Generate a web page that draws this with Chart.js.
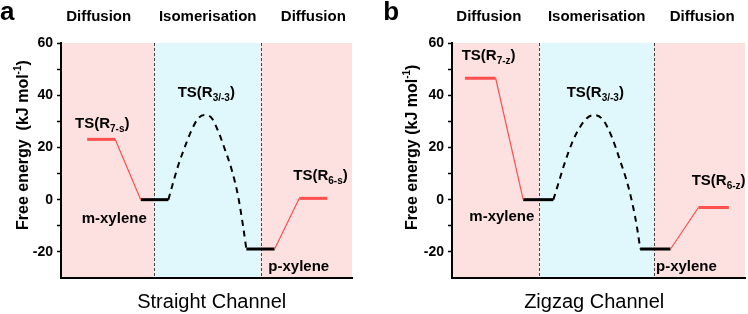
<!DOCTYPE html>
<html>
<head>
<meta charset="utf-8">
<script src="https://cdn.jsdelivr.net/npm/chart.js@4.4.1/dist/chart.umd.min.js"></script>
<style>
  html, body { margin: 0; padding: 0; background: #fff; }
  #wrap { position: relative; width: 748px; height: 314px; }
  canvas { position: absolute; top: 0; }
</style>
</head>
<body>
<div id="wrap">
  <canvas id="chartA" width="374" height="314" style="left:0"></canvas>
  <canvas id="chartB" width="374" height="314" style="left:374px"></canvas>
</div>
<script>
// free energy (kJ/mol) of the flat levels: TS left, m-xylene, p-xylene, TS right
const straightEnergy = [23.1, 0, -18.9, 0.5];
const zigzagEnergy   = [46.5, 0, -18.9, -3.0];

// reaction coordinate (0..10) where each flat level starts / ends
const straightLevelX = [[0.90, 1.86], [2.74, 3.69], [6.37, 7.34], [8.19, 9.15]];
const zigzagLevelX   = [[0.44, 1.49], [2.43, 3.46], [6.42, 7.46], [8.41, 9.45]];

// isomerisation barrier TS(R3/-3)
const straightCurveX = [3.69, 3.86, 4.03, 4.26, 4.49, 4.72, 4.95, 5.18, 5.41, 5.64, 5.87, 6.09, 6.26, 6.37];
const straightCurveY = [0, 6.8, 13.2, 20.3, 26.7, 31.2, 32.4, 31.2, 26.0, 19.0, 11.3, 1.1, -10.4, -18.9];
const zigzagCurveX = [3.46, 3.63, 3.86, 4.09, 4.31, 4.60, 4.86, 5.16, 5.45, 5.73, 6.02, 6.25, 6.39, 6.42];
const zigzagCurveY = [0, 6.2, 14.5, 21.6, 26.7, 31.2, 32.4, 30.5, 24.1, 15.2, 4.9, -6.6, -16.2, -18.9];

// borders between diffusion | isomerisation | diffusion
const straightRegions = [3.20, 6.86];
const zigzagRegions   = [2.98, 6.89];

const regionNames = ['Diffusion', 'Isomerisation', 'Diffusion'];
const yTicks = [-20, 0, 20, 40, 60];

const FONT = '"Liberation Sans", Arial, sans-serif';
const RED = '#ff4f4f';
const PINK = '#fde1e0';
const CYAN = '#e0f8fb';

function segment(xs, ys, color, width, extra) {
  return Object.assign({
    data: xs.map((x, i) => ({x: x, y: ys[i]})),
    borderColor: color,
    borderWidth: width,
    pointRadius: 0,
    fill: false,
    tension: 0
  }, extra || {});
}

function buildDatasets(levelX, energy, curveX, curveY) {
  const level = (i, color) => segment(levelX[i], [energy[i], energy[i]], color, 3);
  return [
    segment([levelX[0][1], levelX[1][0]], [energy[0], energy[1]], RED, 1.2),
    segment(curveX, curveY, '#000', 2, {borderDash: [6, 5], cubicInterpolationMode: 'monotone'}),
    segment([levelX[2][1], levelX[3][0]], [energy[2], energy[3]], RED, 1.2),
    level(0, RED), level(1, '#000'), level(2, '#000'), level(3, RED)
  ];
}

function drawRich(ctx, x, y, parts) {
  ctx.textAlign = 'left';
  parts.forEach(pt => {
    ctx.font = (pt.weight || 'bold') + ' ' + pt.size + 'px ' + FONT;
    ctx.fillText(pt.t, x, y + (pt.dy || 0));
    x += ctx.measureText(pt.t).width;
  });
}

function panelPlugin(p) {
  return {
    id: 'panel_' + p.letter,
    beforeDraw(chart) {
      const {ctx, chartArea: a} = chart;
      const xs = chart.scales.x;
      const b0 = xs.getPixelForValue(p.regions[0]);
      const b1 = xs.getPixelForValue(p.regions[1]);
      ctx.save();
      ctx.fillStyle = PINK;
      ctx.fillRect(a.left, a.top, a.right - a.left, a.bottom - a.top);
      ctx.fillStyle = CYAN;
      ctx.fillRect(b0, a.top, b1 - b0, a.bottom - a.top);
      ctx.strokeStyle = '#444';
      ctx.lineWidth = 1;
      ctx.setLineDash([3, 2]);
      [b0, b1].forEach(b => {
        ctx.beginPath();
        ctx.moveTo(Math.round(b) + 0.5, a.top);
        ctx.lineTo(Math.round(b) + 0.5, a.bottom);
        ctx.stroke();
      });
      ctx.restore();
    },
    afterDraw(chart) {
      const ctx = chart.ctx;
      ctx.save();
      ctx.fillStyle = '#000';
      ctx.textBaseline = 'alphabetic';

      ctx.font = 'bold 26px ' + FONT;
      ctx.textAlign = 'left';
      ctx.fillText(p.letter, p.letterX, 20);

      ctx.font = 'bold 15px ' + FONT;
      ctx.textAlign = 'center';
      regionNames.forEach((t, i) => ctx.fillText(t, p.headerX[i], 21));

      ctx.font = '20px ' + FONT;
      ctx.fillText(p.title, p.titleX, 308);

      ctx.save();
      ctx.translate(p.yTitleX, 230);
      ctx.rotate(-Math.PI / 2);
      drawRich(ctx, 0, 0, [
        {t: p.yTitle, size: 16},
        {t: '-1', size: 10, dy: -7},
        {t: ')', size: 16}
      ]);
      ctx.restore();

      p.labels.forEach(l => {
        if (l.sub) {
          drawRich(ctx, l.x, l.y, [{t: 'TS(R', size: 15}, {t: l.sub, size: 10, dy: 4}, {t: ')', size: 15}]);
        } else {
          drawRich(ctx, l.x, l.y, [{t: l.text, size: 15}]);
        }
      });
      ctx.restore();
    }
  };
}

function makeChart(id, p) {
  return new Chart(document.getElementById(id), {
    type: 'line',
    data: {datasets: buildDatasets(p.levelX, p.energy, p.curveX, p.curveY)},
    options: {
      responsive: false,
      animation: false,
      devicePixelRatio: 1,
      layout: {padding: {left: 0, right: p.padRight, top: 43, bottom: 36}},
      plugins: {legend: {display: false}, tooltip: {enabled: false}},
      scales: {
        x: {
          type: 'linear', min: 0, max: 10,
          ticks: {display: false},
          grid: {drawOnChartArea: false, drawTicks: false},
          border: {color: '#000', width: 2},
          afterFit: s => { s.height = 0; }
        },
        y: {
          min: -30, max: 60,
          ticks: {
            stepSize: 10, color: '#000', padding: 4,
            font: {family: FONT, size: 14, weight: 'bold'},
            callback: v => yTicks.includes(v) ? v : ''
          },
          grid: {
            drawOnChartArea: false, tickLength: 4, tickWidth: 1.5,
            tickColor: c => (c.tick && c.tick.value === -30) ? 'rgba(0,0,0,0)' : '#000'
          },
          border: {color: '#000', width: 2},
          afterFit: s => { s.width = p.axisW; }
        }
      }
    },
    plugins: [panelPlugin(p)]
  });
}

makeChart('chartA', {
  letter: 'a', letterX: 0,
  energy: straightEnergy, levelX: straightLevelX,
  curveX: straightCurveX, curveY: straightCurveY,
  regions: straightRegions,
  axisW: 61, padRight: 22,
  headerX: [98.7, 207.7, 313.3],
  title: 'Straight Channel', titleX: 211.7,
  yTitle: 'Free energy  (kJ mol', yTitleX: 28,
  labels: [
    {x: 75, y: 128, sub: '7-s'},
    {x: 177.7, y: 96.7, sub: '3/-3'},
    {x: 81.7, y: 222.7, text: 'm-xylene'},
    {x: 268.3, y: 270.7, text: 'p-xylene'},
    {x: 293.3, y: 180, sub: '6-s'}
  ]
});

makeChart('chartB', {
  letter: 'b', letterX: 9.3,
  energy: zigzagEnergy, levelX: zigzagLevelX,
  curveX: zigzagCurveX, curveY: zigzagCurveY,
  regions: zigzagRegions,
  axisW: 78, padRight: 3,
  headerX: [114.8, 222.7, 328.2],
  title: 'Zigzag Channel', titleX: 220.2,
  yTitle: 'Free energy (kJ mol', yTitleX: 42.7,
  labels: [
    {x: 87.7, y: 60, sub: '7-z'},
    {x: 192.7, y: 97, sub: '3/-3'},
    {x: 95.3, y: 220.7, text: 'm-xylene'},
    {x: 282, y: 270.7, text: 'p-xylene'},
    {x: 317.7, y: 185, sub: '6-z'}
  ]
});
</script>
</body>
</html>
